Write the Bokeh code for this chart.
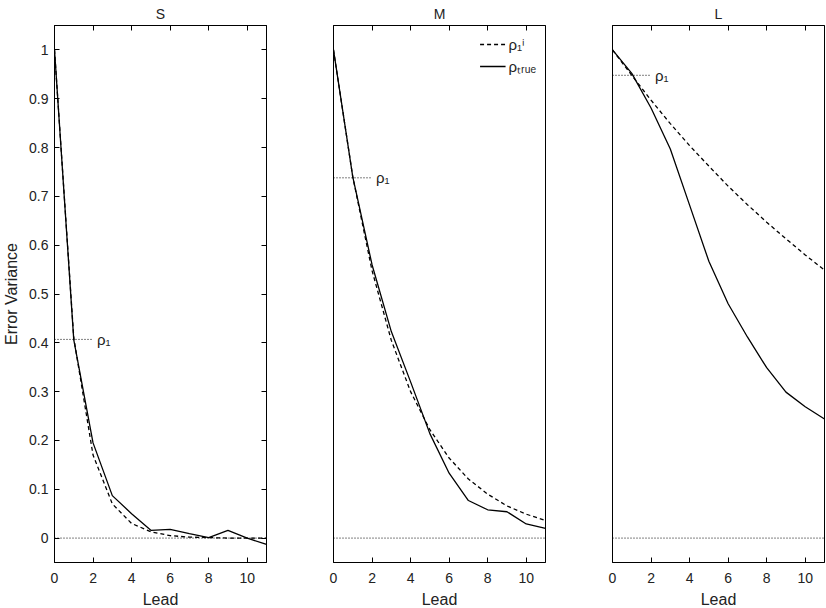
from bokeh.plotting import figure
from bokeh.models import LinearAxis, FixedTicker, Range1d, Legend, LegendItem, Label, Title
from bokeh.layouts import row
from bokeh.embed import file_html
from bokeh.resources import INLINE

leads = list(range(12))
panel_names = ["S", "M", "L"]
s_true = [1.0, 0.406, 0.195, 0.087, 0.050, 0.016, 0.018, 0.009, 0.001, 0.016, 0.0, -0.013]
s_rho1 = [1.0, 0.41, 0.17, 0.07, 0.030, 0.013, 0.005, 0.002, 0.001, 0.0, 0.0, 0.0]
m_true = [1.0, 0.74, 0.56, 0.423, 0.320, 0.214, 0.133, 0.077, 0.058, 0.054, 0.029, 0.020]
m_rho1 = [1.0, 0.74, 0.548, 0.405, 0.30, 0.222, 0.164, 0.121, 0.090, 0.066, 0.049, 0.036]
l_true = [1.0, 0.952, 0.881, 0.797, 0.682, 0.567, 0.480, 0.412, 0.349, 0.299, 0.269, 0.244]
l_rho1 = [1.0, 0.948, 0.897, 0.849, 0.804, 0.762, 0.721, 0.683, 0.647, 0.613, 0.580, 0.549]
rho1_values = [0.407, 0.738, 0.948]
x_ticks = [0, 2, 4, 6, 8, 10]
y_ticks = [0, 0.1, 0.2, 0.3, 0.4, 0.5, 0.6, 0.7, 0.8, 0.9, 1.0]
y_tick_labels = ["0", "0.1", "0.2", "0.3", "0.4", "0.5", "0.6", "0.7", "0.8", "0.9", "1"]
rho1_span = [0, 2]

FONT = "Liberation Sans"
TXT = "#222222"
trues = [s_true, m_true, l_true]
rho1s = [s_rho1, m_rho1, l_rho1]


def tick_only_axis():
    return LinearAxis(major_tick_in=5, major_tick_out=0, minor_tick_line_color=None,
                      major_label_text_font_size="1px", major_label_text_color=None,
                      major_label_standoff=0, axis_line_color="black")


figs = []
for i, name in enumerate(panel_names):
    left = 54 if i == 0 else 65
    right = 1 if i == 2 else 2
    p = figure(frame_width=212, frame_height=537, output_backend="svg", toolbar_location=None,
               x_range=Range1d(0, 11), y_range=Range1d(-0.05, 1.05),
               min_border_left=left, min_border_right=right, min_border_top=25, min_border_bottom=5)
    p.title = Title(text=name, align="center", text_font=FONT, text_font_size="14px",
                    text_font_style="normal", text_color=TXT, standoff=7, offset=0)
    p.grid.visible = False
    p.outline_line_color = "black"
    p.outline_line_width = 1

    xa = p.xaxis[0]
    xa.ticker = FixedTicker(ticks=x_ticks)
    xa.major_tick_in = 5
    xa.major_tick_out = 0
    xa.minor_tick_line_color = None
    xa.axis_line_color = "black"
    xa.major_label_text_font = FONT
    xa.major_label_text_font_size = "14px"
    xa.major_label_text_color = TXT
    xa.major_label_standoff = 10
    xa.axis_label = "Lead"
    xa.axis_label_text_font = FONT
    xa.axis_label_text_font_size = "16px"
    xa.axis_label_text_font_style = "normal"
    xa.axis_label_text_color = TXT
    xa.axis_label_standoff = 5

    ta = tick_only_axis()
    ta.ticker = FixedTicker(ticks=x_ticks)
    p.add_layout(ta, "above")

    ya = p.yaxis[0]
    if i == 0:
        ya.ticker = FixedTicker(ticks=y_ticks)
        ya.major_label_overrides = {t: lab for t, lab in zip(y_ticks, y_tick_labels)}
        ya.major_tick_in = 5
        ya.major_tick_out = 0
        ya.minor_tick_line_color = None
        ya.axis_line_color = "black"
        ya.major_label_text_font = FONT
        ya.major_label_text_font_size = "14px"
        ya.major_label_text_color = TXT
        ya.major_label_standoff = 6
        ya.axis_label = "Error Variance"
        ya.axis_label_text_font = FONT
        ya.axis_label_text_font_size = "16px"
        ya.axis_label_text_font_style = "normal"
        ya.axis_label_text_color = TXT
        ya.axis_label_standoff = 6
        ra = tick_only_axis()
        ra.ticker = FixedTicker(ticks=y_ticks)
        p.add_layout(ra, "right")
    else:
        ya.visible = False

    p.line(x=[0, 11], y=[0, 0], line_color="black", line_width=1, line_dash="1 2")
    p.line(x=rho1_span, y=[rho1_values[i]] * 2, line_color="black", line_width=1, line_dash="1 2")
    p.add_layout(Label(x=2.2, y=rho1_values[i], text="ρ₁", text_font=FONT, text_font_size="15px",
                       text_baseline="middle", text_color=TXT))

    r_dash = p.line(x=leads, y=rho1s[i], line_color="black", line_width=1.3, line_dash="4 3")
    r_solid = p.line(x=leads, y=trues[i], line_color="black", line_width=1.3)

    if i == 1:
        leg = Legend(items=[LegendItem(label="ρ₁ⁱ", renderers=[r_dash]),
                            LegendItem(label="ρₜᵣᵤₑ", renderers=[r_solid])],
                     location="top_right", border_line_color=None, background_fill_alpha=0,
                     label_text_font=FONT, label_text_font_size="15px", label_text_color=TXT,
                     glyph_width=26, glyph_height=20, label_height=20, spacing=2,
                     label_standoff=3, padding=12, margin=9)
        p.add_layout(leg)
    figs.append(p)

layout = row(*figs)
open("out.html", "w").write(file_html(layout, INLINE))
